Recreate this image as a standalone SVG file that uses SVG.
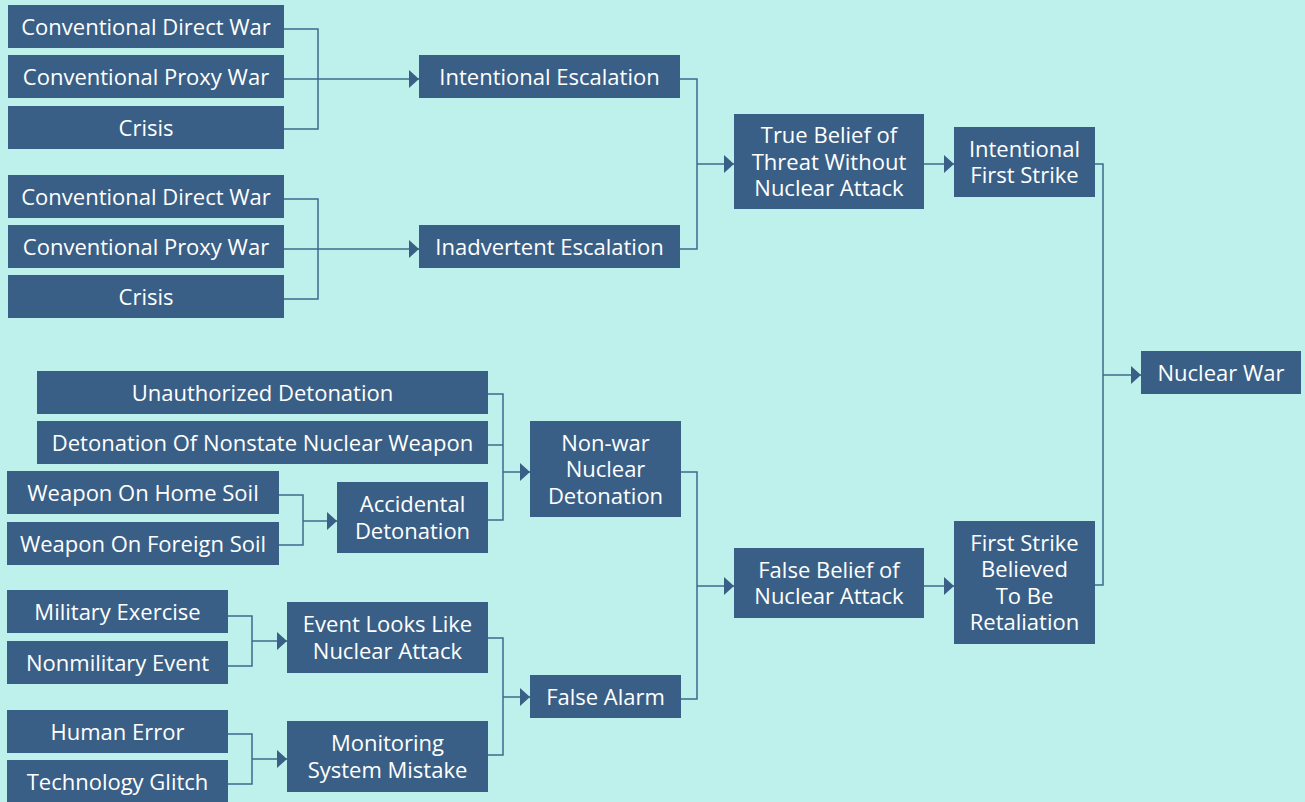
<svg xmlns="http://www.w3.org/2000/svg" width="1305" height="802" viewBox="0 0 1305 802">
<style>
.bg{fill:#bff1ec}
.n rect{fill:#3a5f86}
.n text{fill:#ffffff;font-family:"Open Sans","Noto Sans","Liberation Sans",sans-serif;font-size:22px;font-weight:500;text-anchor:middle}
.c path{fill:none;stroke:#3d6a8e;stroke-width:1.5}
</style>
<defs>
<marker id="ah" markerUnits="userSpaceOnUse" markerWidth="10" markerHeight="18" refX="10" refY="9" orient="auto" viewBox="0 0 10 18">
<path d="M0,0 L10,9 L0,18 z" fill="#3a5f86"/>
</marker>
</defs>
<rect class="bg" x="0" y="0" width="1305" height="802"/>
<g id="connectors" class="c">
<path d="M284,29 H318 V129 H284"/>
<path d="M284,79 H419" marker-end="url(#ah)"/>
<path d="M284,199 H318 V299 H284"/>
<path d="M284,249 H419" marker-end="url(#ah)"/>
<path d="M680,79 H697 V249 H680"/>
<path d="M697,164 H734" marker-end="url(#ah)"/>
<path d="M924,164 H954" marker-end="url(#ah)"/>
<path d="M1095,164 H1103 V585 H1095"/>
<path d="M1103,375 H1141" marker-end="url(#ah)"/>
<path d="M279,495 H303 V545 H279"/>
<path d="M303,521 H337" marker-end="url(#ah)"/>
<path d="M488,394 H503 V520 H488"/>
<path d="M488,445 H503"/>
<path d="M503,472 H530" marker-end="url(#ah)"/>
<path d="M228,616 H252 V666 H228"/>
<path d="M252,641 H287" marker-end="url(#ah)"/>
<path d="M228,734 H252 V784 H228"/>
<path d="M252,759 H287" marker-end="url(#ah)"/>
<path d="M488,638 H503 V755 H488"/>
<path d="M503,697 H530" marker-end="url(#ah)"/>
<path d="M681,472 H697 V699 H681"/>
<path d="M697,586 H734" marker-end="url(#ah)"/>
<path d="M924,586 H954" marker-end="url(#ah)"/>
</g>
<g id="cdw1" class="n"><rect x="8" y="5" width="276" height="43"/><text x="146" y="34.5">Conventional Direct War</text></g>
<g id="cpw1" class="n"><rect x="8" y="55" width="276" height="43"/><text x="146" y="84.5">Conventional Proxy War</text></g>
<g id="crisis1" class="n"><rect x="8" y="106" width="276" height="43"/><text x="146" y="135.5">Crisis</text></g>
<g id="cdw2" class="n"><rect x="8" y="175" width="276" height="43"/><text x="146" y="204.5">Conventional Direct War</text></g>
<g id="cpw2" class="n"><rect x="8" y="225" width="276" height="43"/><text x="146" y="254.5">Conventional Proxy War</text></g>
<g id="crisis2" class="n"><rect x="8" y="275" width="276" height="43"/><text x="146" y="304.5">Crisis</text></g>
<g id="intentional-escalation" class="n"><rect x="419" y="55" width="261" height="43"/><text x="549.5" y="84.5">Intentional Escalation</text></g>
<g id="inadvertent-escalation" class="n"><rect x="419" y="225" width="261" height="43"/><text x="549.5" y="254.5">Inadvertent Escalation</text></g>
<g id="true-belief" class="n"><rect x="734" y="114" width="190" height="95"/><text x="829" y="143">True Belief of<tspan x="829" dy="26.5">Threat Without</tspan><tspan x="829" dy="26.5">Nuclear Attack</tspan></text></g>
<g id="intentional-first-strike" class="n"><rect x="954" y="127" width="141" height="70"/><text x="1024.5" y="156.5">Intentional<tspan x="1024.5" dy="26.5">First Strike</tspan></text></g>
<g id="nuclear-war" class="n"><rect x="1141" y="351" width="160" height="43"/><text x="1221" y="380.5">Nuclear War</text></g>
<g id="unauthorized" class="n"><rect x="37" y="371" width="451" height="43"/><text x="262.5" y="400.5">Unauthorized Detonation</text></g>
<g id="nonstate" class="n"><rect x="37" y="421" width="451" height="43"/><text x="262.5" y="450.5">Detonation Of Nonstate Nuclear Weapon</text></g>
<g id="home-soil" class="n"><rect x="7" y="471" width="272" height="43"/><text x="143" y="500.5">Weapon On Home Soil</text></g>
<g id="foreign-soil" class="n"><rect x="7" y="522" width="272" height="43"/><text x="143" y="551.5">Weapon On Foreign Soil</text></g>
<g id="accidental" class="n"><rect x="337" y="482" width="151" height="71"/><text x="412.5" y="512">Accidental<tspan x="412.5" dy="26.5">Detonation</tspan></text></g>
<g id="non-war" class="n"><rect x="530" y="421" width="151" height="96"/><text x="605.5" y="450.5">Non-war<tspan x="605.5" dy="26.5">Nuclear</tspan><tspan x="605.5" dy="26.5">Detonation</tspan></text></g>
<g id="military-exercise" class="n"><rect x="7" y="590" width="221" height="43"/><text x="117.5" y="619.5">Military Exercise</text></g>
<g id="nonmilitary-event" class="n"><rect x="7" y="641" width="221" height="43"/><text x="117.5" y="670.5">Nonmilitary Event</text></g>
<g id="event-looks" class="n"><rect x="287" y="602" width="201" height="71"/><text x="387.5" y="632">Event Looks Like<tspan x="387.5" dy="26.5">Nuclear Attack</tspan></text></g>
<g id="human-error" class="n"><rect x="7" y="710" width="221" height="43"/><text x="117.5" y="739.5">Human Error</text></g>
<g id="technology-glitch" class="n"><rect x="7" y="760" width="221" height="43"/><text x="117.5" y="789.5">Technology Glitch</text></g>
<g id="monitoring" class="n"><rect x="287" y="721" width="201" height="71"/><text x="387.5" y="751">Monitoring<tspan x="387.5" dy="26.5">System Mistake</tspan></text></g>
<g id="false-alarm" class="n"><rect x="530" y="675" width="151" height="43"/><text x="605.5" y="704.5">False Alarm</text></g>
<g id="false-belief" class="n"><rect x="734" y="548" width="190" height="70"/><text x="829" y="577.5">False Belief of<tspan x="829" dy="26.5">Nuclear Attack</tspan></text></g>
<g id="first-strike-retaliation" class="n"><rect x="954" y="521" width="141" height="123"/><text x="1024.5" y="550.5">First Strike<tspan x="1024.5" dy="26.5">Believed</tspan><tspan x="1024.5" dy="26.5">To Be</tspan><tspan x="1024.5" dy="26.5">Retaliation</tspan></text></g>
</svg>
